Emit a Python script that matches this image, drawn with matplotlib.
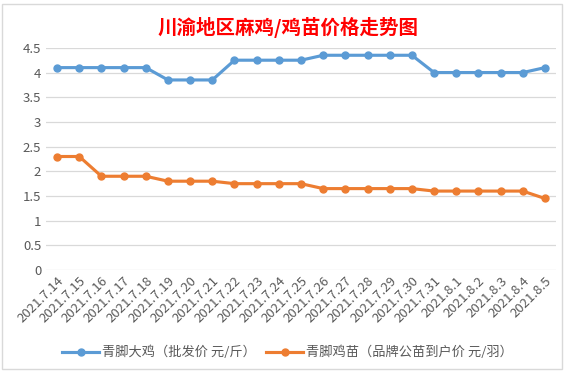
import matplotlib.pyplot as plt
from matplotlib.patches import Rectangle

plt.rcParams['font.family'] = ['Noto Sans CJK SC', 'DejaVu Sans']

dates = ["2021.7.14", "2021.7.15", "2021.7.16", "2021.7.17", "2021.7.18", "2021.7.19",
         "2021.7.20", "2021.7.21", "2021.7.22", "2021.7.23", "2021.7.24", "2021.7.25",
         "2021.7.26", "2021.7.27", "2021.7.28", "2021.7.29", "2021.7.30", "2021.7.31",
         "2021.8.1", "2021.8.2", "2021.8.3", "2021.8.4", "2021.8.5"]
big_chicken = [4.1, 4.1, 4.1, 4.1, 4.1, 3.85, 3.85, 3.85, 4.25, 4.25, 4.25, 4.25,
               4.35, 4.35, 4.35, 4.35, 4.35, 4.0, 4.0, 4.0, 4.0, 4.0, 4.1]
chick = [2.3, 2.3, 1.9, 1.9, 1.9, 1.8, 1.8, 1.8, 1.75, 1.75, 1.75, 1.75,
         1.65, 1.65, 1.65, 1.65, 1.65, 1.6, 1.6, 1.6, 1.6, 1.6, 1.45]
yticks = [0, 0.5, 1, 1.5, 2, 2.5, 3, 3.5, 4, 4.5]
ytick_labels = ["0", "0.5", "1", "1.5", "2", "2.5", "3", "3.5", "4", "4.5"]

fig = plt.figure(figsize=(5.75, 3.71), dpi=100)
ax = fig.add_axes([0.080, 0.272, 0.887, 0.599])

x = list(range(len(dates)))
ax.plot(x, big_chicken, color="#5B9BD5", linewidth=2.25, marker="o", markersize=5,
        label="青脚大鸡（批发价 元/斤）")
ax.plot(x, chick, color="#ED7D31", linewidth=2.25, marker="o", markersize=5,
        label="青脚鸡苗（品牌公苗到户价 元/羽）")

ax.set_xlim(-0.5, len(dates) - 0.5)
ax.set_ylim(0, 4.5)
ax.set_yticks(yticks)
ax.set_yticklabels(ytick_labels)
ax.set_xticks(x)
ax.set_xticklabels(dates, rotation=45, ha="right", rotation_mode="anchor")
ax.tick_params(length=0, labelsize=9.5, colors="#595959")
ax.tick_params(axis="x", pad=3)
for lbl in ax.get_xticklabels():
    lbl.set_x(lbl.get_position()[0])
ax.grid(axis="y", color="#D9D9D9", linewidth=0.9)
ax.set_axisbelow(True)
for s in ax.spines.values():
    s.set_visible(False)

fig.text(0.5, 0.927, "川渝地区麻鸡/鸡苗价格走势图", ha="center", va="center",
         color="#FF0000", fontsize=14, fontweight="bold")

fig.legend(loc="center", bbox_to_anchor=(0.5, 0.05), ncol=2, frameon=False,
           fontsize=9.5, handlelength=2.8, columnspacing=0.8, handletextpad=0.2,
           labelcolor="#595959")

fig.patches.append(Rectangle((0.003, 0.005), 0.975, 0.985, transform=fig.transFigure,
                             fill=False, edgecolor="#D9D9D9", linewidth=1))

fig.savefig("out.png", dpi=100)
